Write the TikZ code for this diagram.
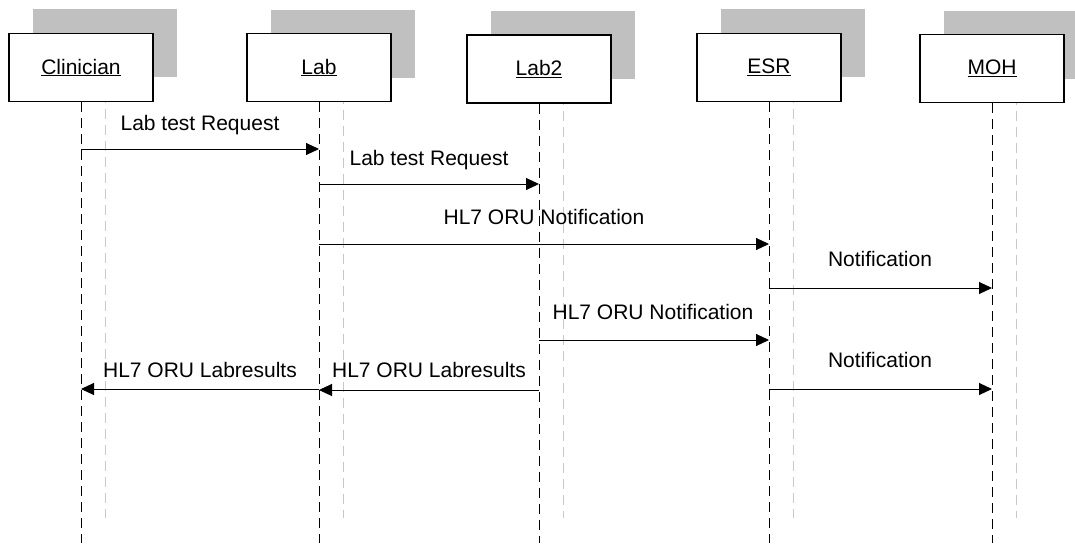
\documentclass[tikz,border=0pt]{standalone}
\usepackage{fontspec}
\setmainfont{Liberation Sans}
\usetikzlibrary{arrows.meta}
\definecolor{shade}{HTML}{C0C0C0}
\definecolor{ghost}{HTML}{C8C8C8}
\tikzset{
  actor/.style={draw=black, line width=1.2pt, fill=white, minimum width=144pt, minimum height=68pt, inner sep=0pt},
  shadowbox/.style={fill=shade, minimum width=144pt, minimum height=68pt, inner sep=0pt},
  lifeline/.style={draw=black, line width=1pt, dash pattern=on 10pt off 6pt},
  ghostline/.style={draw=ghost, line width=1pt, dash pattern=on 10pt off 6pt},
  msg/.style={draw=black, line width=1pt, -{Triangle[length=13pt,width=12pt]}},
  msglabel/.style={anchor=base, inner sep=0pt},
}
\begin{document}
\begin{tikzpicture}[x=1pt, y=-1pt, font=\fontsize{21}{25}\selectfont]
\useasboundingbox (0,0) rectangle (1075,543);
\fill[white] (0,0) rectangle (1075,543);
\begin{scope}
\clip (0,0) rectangle (1075,543);

% shadows behind the participant boxes
\node[shadowbox] (clinS) at (105,43) {};
\node[shadowbox] (labS)  at (343,44) {};
\node[shadowbox] (lab2S) at (563,45) {};
\node[shadowbox] (esrS)  at (793,43) {};
\node[shadowbox] (mohS)  at (1016,45) {};

\coordinate (gend) at (0,518);
\coordinate (bottom) at (0,543);

% light lifelines under the shadows
\foreach \s in {clinS,labS,lab2S,esrS,mohS}
  \draw[ghostline] (\s.south) -- (\s.south |- gend);

% participant boxes
\node[actor] (clin) at (81,67.5)  {\underline{Clinician}};
\node[actor] (lab)  at (319,67.5) {\underline{Lab}};
\node[actor] (lab2) at (539,69)   {\underline{Lab2}};
\node[actor] (esr)  at (769,67.5) {\underline{ESR}};
\node[actor] (moh)  at (992,68.5) {\underline{MOH}};

% lifelines
\foreach \p in {clin,lab,lab2,esr,moh}
  \draw[lifeline] (\p.south) -- (\p.south |- bottom);

% message rows
\coordinate (r1) at (0,149);
\coordinate (r2) at (0,184);
\coordinate (r3) at (0,244);
\coordinate (r4) at (0,288);
\coordinate (r5) at (0,340);
\coordinate (r6) at (0,389);
\coordinate (r7) at (0,390);
\coordinate (r8) at (0,389);

\draw[msg] (clin |- r1) -- (lab |- r1);
\draw[msg] (lab |- r2)  -- (lab2 |- r2);
\draw[msg] (lab |- r3)  -- (esr |- r3);
\draw[msg] (esr |- r4)  -- (moh |- r4);
\draw[msg] (lab2 |- r5) -- (esr |- r5);
\draw[msg] (esr |- r6)  -- (moh |- r6);
\draw[msg] (lab2 |- r7) -- (lab |- r7);
\draw[msg] (lab |- r8)  -- (clin |- r8);

% message labels
\node[msglabel] (l1) at (200,130) {Lab test Request};
\node[msglabel] (l2) at (429,165) {Lab test Request};
\node[msglabel] (l3) at (544,224) {HL7 ORU Notification};
\node[msglabel] (l4) at (880,266) {Notification};
\node[msglabel] (l5) at (653,319) {HL7 ORU Notification};
\node[msglabel] (l6) at (880,367) {Notification};
\node[msglabel] (l7) at (429,377) {HL7 ORU Labresults};
\node[msglabel] (l8) at (200,377) {HL7 ORU Labresults};
\end{scope}
\end{tikzpicture}
\end{document}
